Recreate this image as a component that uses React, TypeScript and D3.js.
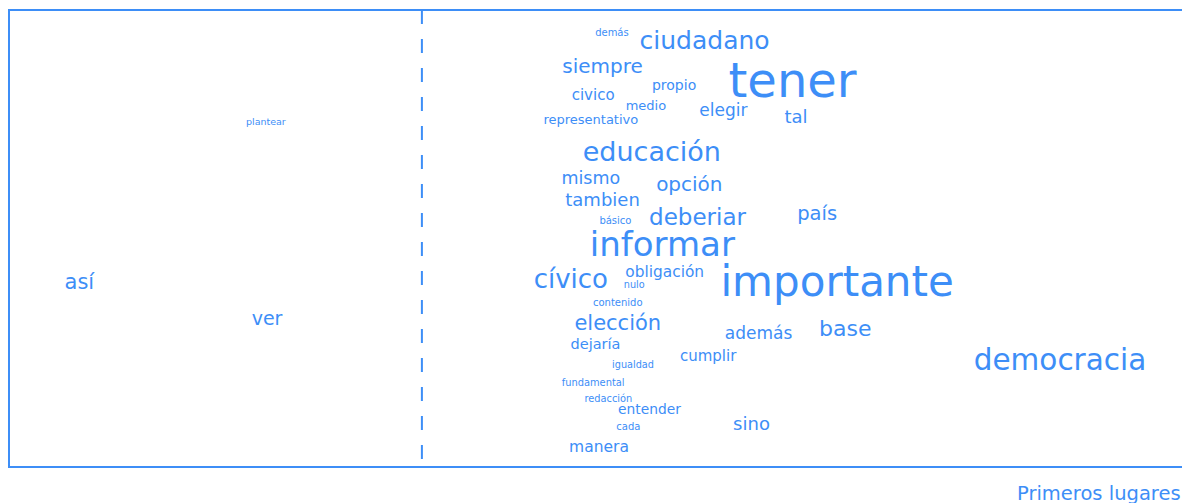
import React from 'react'
import * as d3 from 'd3';

// palabras y su posicion (en % del area del grafico) y peso
const palabras = [
  'demás', 'ciudadano', 'siempre', 'tener', 'propio', 'civico', 'medio', 'elegir',
  'representativo', 'tal', 'plantear', 'educación', 'mismo', 'opción', 'tambien',
  'básico', 'deberiar', 'país', 'informar', 'cívico', 'obligación', 'nulo',
  'importante', 'así', 'ver', 'contenido', 'elección', 'además', 'base', 'democracia',
  'dejaría', 'cumplir', 'igualdad', 'fundamental', 'redacción', 'entender', 'sino',
  'cada', 'manera',
];
const posX = [
  51.4, 59.3, 50.6, 66.8, 56.7, 49.8, 54.3, 60.9,
  49.6, 67.1, 21.9, 54.8, 49.6, 58.0, 50.6,
  51.7, 58.7, 68.9, 55.7, 47.9, 55.9, 53.3,
  70.6, 6.0, 22.0, 51.9, 51.9, 63.9, 71.3, 89.6,
  50.0, 59.6, 53.2, 49.8, 51.1, 54.6, 63.3,
  52.8, 50.3,
];
const posY = [
  5.0, 6.6, 12.3, 15.3, 16.4, 18.6, 21.0, 21.9,
  23.9, 23.4, 24.3, 30.9, 36.8, 38.1, 41.4,
  46.0, 45.3, 44.6, 51.2, 58.9, 57.3, 60.0,
  59.5, 59.5, 67.4, 63.9, 68.5, 70.7, 69.8, 76.6,
  73.1, 75.7, 77.5, 81.6, 85.1, 87.3, 90.4,
  91.2, 95.6,
];
const peso = [
  10, 25, 20, 48, 14, 15, 13, 17,
  13, 18, 9.5, 27, 17.5, 20, 18,
  10, 23, 19.5, 34, 26, 15.4, 9.7,
  42, 21, 19, 10, 21, 17, 22, 29.5,
  14.5, 15, 9.7, 9.9, 9.8, 13.8, 18,
  10, 15.5,
];
const divisionX = 35.2; // linea punteada, en % del ancho
const etiqueta = 'Primeros lugares';

const AZUL = '#3d8ef7';
const W = 1182;
const H = 503;

const WordChart = () => {
  const plot = { left: 9, top: 10, width: 1173, height: 457 };

  const x_scale = d3.scaleLinear()
    .domain([0, 100])
    .range([plot.left, plot.left + plot.width]);

  const y_scale = d3.scaleLinear()
    .domain([0, 100])
    .range([plot.top, plot.top + plot.height]);

  const size_scale = d3.scaleLinear()
    .domain([10, 48])
    .range([10, 48]);

  const data = palabras.map((p, i) => ({ word: p, x: posX[i], y: posY[i], w: peso[i] }));

  return (
    <svg width={W} height={H} style={{ position: 'absolute', left: 0, top: 0 }}
      fontFamily="'DejaVu Sans', sans-serif">
      <rect x={plot.left} y={plot.top} width={plot.width + 200} height={plot.height}
        fill="none" stroke={AZUL} strokeWidth={2} />
      <line x1={x_scale(divisionX)} x2={x_scale(divisionX)} y1={plot.top} y2={plot.top + plot.height}
        stroke={AZUL} strokeWidth={2} strokeDasharray="14 15" />
      <g>
        {data.map((d, i) =>
          <text key={i} x={x_scale(d.x)} y={y_scale(d.y)} textAnchor='middle' dominantBaseline='central'
            fill={AZUL} fontSize={size_scale(d.w)}>{d.word}</text>
        )}
      </g>
      <text x={1017} y={500} fill={AZUL} fontSize={19.5}>{etiqueta}</text>
    </svg>
  )
}

const App = () => <WordChart />

export default App
